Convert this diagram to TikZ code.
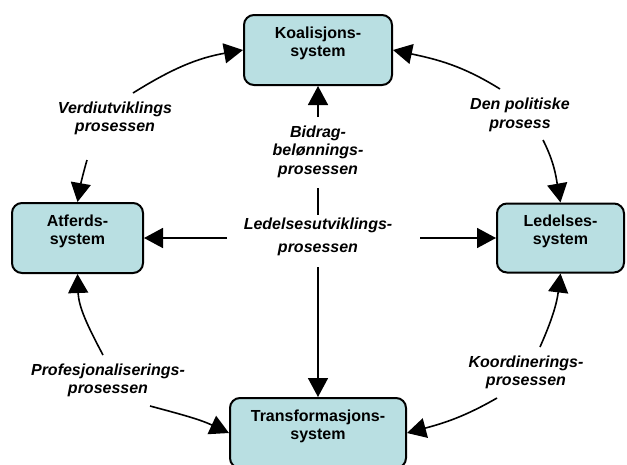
\documentclass[tikz,border=0pt]{standalone}
\usepackage{fontspec}
\setmainfont{Liberation Sans}
\usetikzlibrary{arrows.meta}
\definecolor{boxfill}{RGB}{185,223,226}
\begin{document}
\begin{tikzpicture}[x=1pt,y=1pt,
  sysbox/.style={draw=black, line width=2pt, rounded corners=10pt, fill=boxfill, inner sep=0pt},
  systext/.style={font=\bfseries\fontsize{16}{18.5}\selectfont, align=center, inner sep=0pt},
  proclabel/.style={font=\bfseries\itshape\fontsize{16}{18.5}\selectfont, align=center, inner sep=0pt},
  conn/.style={line width=1.6pt},
  arr/.style={conn, -{Triangle[length=19pt,width=20pt]}},
]
\clip (0,0) rectangle (627,-464);
\fill[white] (0,0) rectangle (627,-464);

% systems
\node[sysbox, minimum width=148pt, minimum height=70pt] (K) at (318,-50) {};
\node[systext] (Kt) at ([yshift=6.5pt]K.center) {Koalisjons-\\system};
\node[sysbox, minimum width=131pt, minimum height=70pt] (A) at (77.5,-238) {};
\node[systext] (At) at ([yshift=6.5pt]A.center) {Atferds-\\system};
\node[sysbox, minimum width=127pt, minimum height=69pt] (L) at (560.5,-238) {};
\node[systext] (Lt) at ([yshift=6.5pt]L.center) {Ledelses-\\system};
\node[sysbox, minimum width=176pt, minimum height=70pt] (T) at (318,-433) {};
\node[systext] (Tt) at ([yshift=6.5pt]T.center) {Transformasjons-\\system};

% process labels
\node[proclabel] (verdi) at (115,-118.5) {Verdiutviklings\\prosessen};
\node[proclabel] (polit) at (520,-115) {Den politiske\\prosess};
\node[proclabel] (profs) at (108,-380.5) {Profesjonaliserings-\\prosessen};
\node[proclabel] (koord) at (526,-372.5) {Koordinerings-\\prosessen};
\node[proclabel] (bidrag) at (318,-151.5) {Bidrag-\\belønnings-\\prosessen};
\node[proclabel] (ledutv) at (318,-237) {Ledelsesutviklings-\\[4pt]prosessen};

% free ends
\coordinate (v1) at (133,-93);  \coordinate (v2) at (87,-160);
\coordinate (p1) at (500,-89);  \coordinate (p2) at (543,-140);
\coordinate (f1) at (103,-355); \coordinate (f2) at (150,-406);
\coordinate (k1) at (540,-347); \coordinate (k2) at (497,-398);
\coordinate (b1) at (318,-117); \coordinate (b2) at (318,-188);
\coordinate (l1) at (318,-215); \coordinate (l2) at (318,-267);
\coordinate (l3) at (227,-238); \coordinate (l4) at (420,-238);

% curved connectors
\draw[arr] (v1) to[out=32,in=190] (K.west);
\draw[arr] (v2) to[out=-106,in=80] (A.north);
\draw[arr] (p1) to[out=148,in=-12] (K.east);
\draw[arr] (p2) to[out=-63,in=100] (L.north);
\draw[arr] (f1) to[out=118,in=-88] (A.south);
\draw[arr] (f2) to[out=-15,in=155] (T.west);
\draw[arr] (k1) to[out=66,in=-97] (L.south);
\draw[arr] (k2) to[out=210,in=15] (T.east);

% straight connectors
\draw[arr] (b1) -- (K);
\draw[conn] (b2) -- (l1);
\draw[arr] (l2) -- (T);
\draw[arr] (l3) -- (A);
\draw[arr] (l4) -- (L);
\end{tikzpicture}
\end{document}
